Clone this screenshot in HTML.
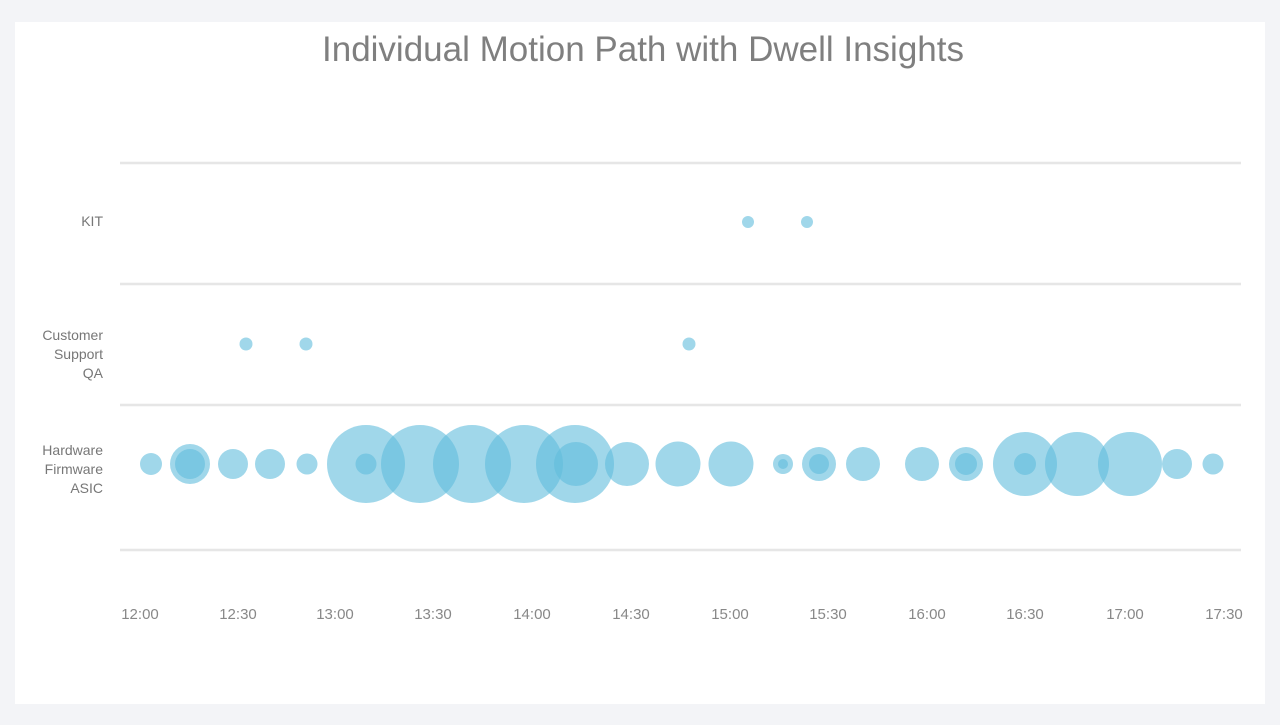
<!DOCTYPE html>
<html><head><meta charset="utf-8"><style>
body{margin:0;background:#f3f4f7;width:1280px;height:720px;overflow:hidden;font-family:"Liberation Sans",sans-serif}
</style></head><body>
<svg width="1280" height="720" xmlns="http://www.w3.org/2000/svg">
<rect x="0" y="0" width="1280" height="720" fill="#f3f4f7"/>
<rect x="15" y="22" width="1250" height="682" fill="#fff"/>
<text x="643" y="61" text-anchor="middle" font-size="35" fill="#7f7f7f" font-family="Liberation Sans, sans-serif">Individual Motion Path with Dwell Insights</text>
<g stroke="#e6e6e6" stroke-width="2.5">
<line x1="120" y1="163" x2="1241" y2="163"/><line x1="120" y1="284" x2="1241" y2="284"/>
<line x1="120" y1="405" x2="1241" y2="405"/><line x1="120" y1="550" x2="1241" y2="550"/>
</g>
<g font-size="14" fill="#777" text-anchor="end">
<text x="103" y="226">KIT</text>
<text x="103" y="340">Customer</text><text x="103" y="359">Support</text><text x="103" y="378">QA</text>
<text x="103" y="455">Hardware</text><text x="103" y="474">Firmware</text><text x="103" y="493">ASIC</text>
</g>
<g font-size="15" fill="#888" text-anchor="middle">
<text x="140" y="619">12:00</text><text x="238" y="619">12:30</text><text x="335" y="619">13:00</text><text x="433" y="619">13:30</text><text x="532" y="619">14:00</text><text x="631" y="619">14:30</text><text x="730" y="619">15:00</text><text x="828" y="619">15:30</text><text x="927" y="619">16:00</text><text x="1025" y="619">16:30</text><text x="1125" y="619">17:00</text><text x="1224" y="619">17:30</text>
</g>
<g fill="rgb(97,188,220)" fill-opacity="0.6">
<circle cx="748" cy="222" r="6"/><circle cx="807" cy="222" r="6"/>
<circle cx="246" cy="344" r="6.5"/><circle cx="306" cy="344" r="6.5"/><circle cx="689" cy="344" r="6.5"/>
<circle cx="151" cy="464" r="11"/>
<circle cx="190" cy="464" r="20"/><circle cx="190" cy="464" r="15"/>
<circle cx="233" cy="464" r="15"/><circle cx="270" cy="464" r="15"/><circle cx="307" cy="464" r="10.5"/>
<circle cx="366" cy="464" r="39"/><circle cx="366" cy="464" r="10.5"/>
<circle cx="420" cy="464" r="39"/><circle cx="472" cy="464" r="39"/><circle cx="524" cy="464" r="39"/>
<circle cx="575" cy="464" r="39"/><circle cx="576" cy="464" r="22"/>
<circle cx="627" cy="464" r="22"/><circle cx="678" cy="464" r="22.5"/><circle cx="731" cy="464" r="22.5"/>
<circle cx="783" cy="464" r="10"/><circle cx="783" cy="464" r="5"/>
<circle cx="819" cy="464" r="17"/><circle cx="819" cy="464" r="10"/>
<circle cx="863" cy="464" r="17"/><circle cx="922" cy="464" r="17"/>
<circle cx="966" cy="464" r="17"/><circle cx="966" cy="464" r="11"/>
<circle cx="1025" cy="464" r="32"/><circle cx="1025" cy="464" r="11"/>
<circle cx="1077" cy="464" r="32"/><circle cx="1130" cy="464" r="32"/>
<circle cx="1177" cy="464" r="15"/><circle cx="1213" cy="464" r="10.5"/>
</g>
</svg>
</body></html>
